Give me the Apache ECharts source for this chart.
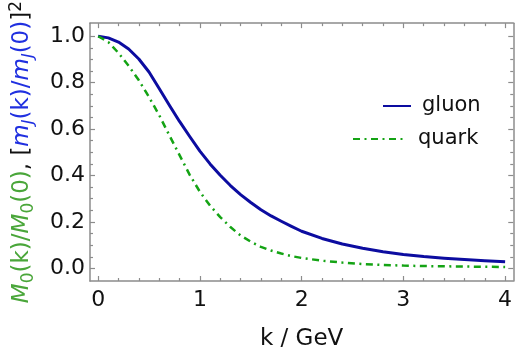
<!DOCTYPE html>
<html>
<head>
<meta charset="utf-8">
<script src="https://cdn.jsdelivr.net/npm/echarts@6/dist/echarts.min.js"></script>
<style>
html,body{margin:0;padding:0;background:#fff;}
#chart{width:515px;height:356px;}
</style>
</head>
<body>
<div id="chart"></div>
<script>
// ---- data ----
var kValues = [0,0.1,0.2,0.3,0.4,0.5,0.6,0.7,0.8,0.9,1.0,1.1,1.2,1.3,1.4,1.5,1.6,1.7,1.8,1.9,2.0,2.2,2.4,2.6,2.8,3.0,3.2,3.4,3.6,3.8,4.0];
var gluonValues = [1.000,0.993,0.975,0.945,0.902,0.846,0.775,0.703,0.633,0.568,0.505,0.450,0.401,0.357,0.318,0.284,0.253,0.226,0.203,0.181,0.160,0.129,0.105,0.087,0.072,0.060,0.051,0.044,0.038,0.033,0.029];
var quarkValues = [1.000,0.975,0.928,0.872,0.810,0.738,0.660,0.573,0.488,0.403,0.330,0.270,0.221,0.178,0.142,0.115,0.093,0.077,0.064,0.053,0.045,0.033,0.025,0.019,0.015,0.012,0.010,0.009,0.008,0.007,0.006];
var seriesNames = ['gluon','quark'];
var xMajorTicks = [0,1,2,3,4];
var xMinorTicks = [0.2,0.4,0.6,0.8,1.2,1.4,1.6,1.8,2.2,2.4,2.6,2.8,3.2,3.4,3.6,3.8];
var yMajorTicks = [0,0.2,0.4,0.6,0.8,1.0];
var yMinorTicks = [0.05,0.1,0.15,0.25,0.3,0.35,0.45,0.5,0.55,0.65,0.7,0.75,0.85,0.9,0.95];
var xLabel = 'k / GeV';

// ---- styling ----
var FONT = 'DejaVu Sans';
var FRAME = '#8c8c8c';
var BLUE = '#0c0ca0';
var GREEN = '#14a314';
var LBL_GREEN = '#4aa63a';
var LBL_BLUE = '#2030e0';
var X_MIN = -0.08, X_MAX = 4.08, Y_MIN = -0.0543, Y_MAX = 1.0564;

function pairs(xs, ys){ return xs.map(function(x,i){ return [x, ys[i]]; }); }

function xAxisDef(pos, ticks, len, labels, lineShow){
  return {
    type:'value', position:pos, min:X_MIN, max:X_MAX,
    axisLine:{show:lineShow, onZero:false, lineStyle:{color:FRAME, width:1.5}},
    axisTick:{show:true, inside:true, length:len, customValues:ticks, lineStyle:{color:FRAME, width:1.2}},
    axisLabel:{show:labels, customValues:ticks, margin:8, color:'#111', fontFamily:FONT, fontSize:22,
      formatter:function(v){ return String(Math.round(v)); }},
    splitLine:{show:false}
  };
}
function yAxisDef(pos, ticks, len, labels, lineShow){
  return {
    type:'value', position:pos, min:Y_MIN, max:Y_MAX,
    axisLine:{show:lineShow, onZero:false, lineStyle:{color:FRAME, width:1.5}},
    axisTick:{show:true, inside:true, length:len, customValues:ticks, lineStyle:{color:FRAME, width:1.2}},
    axisLabel:{show:labels, customValues:ticks, margin:5, color:'#111', fontFamily:FONT, fontSize:22,
      formatter:function(v){ return v.toFixed(1); }},
    splitLine:{show:false}
  };
}

var xAxes = [
  xAxisDef('bottom', xMajorTicks, 5, true, true),
  xAxisDef('bottom', xMinorTicks, 3, false, false),
  xAxisDef('top', xMajorTicks, 5, false, true),
  xAxisDef('top', xMinorTicks, 3, false, false)
];
xAxes[0].name = xLabel;
xAxes[0].nameLocation = 'middle';
xAxes[0].nameGap = 47;
xAxes[0].nameTextStyle = {color:'#111', fontFamily:FONT, fontSize:23};

var yAxes = [
  yAxisDef('left', yMajorTicks, 5, true, true),
  yAxisDef('left', yMinorTicks, 3, false, false),
  yAxisDef('right', yMajorTicks, 5, false, true),
  yAxisDef('right', yMinorTicks, 3, false, false)
];
function st(color, italic, size, lh, va){
  return {color:color, fontStyle:italic?'italic':'normal', fontFamily:FONT, fontSize:size, lineHeight:lh, verticalAlign:va};
}
yAxes[0].name = '{gi|M}{gs|0}{g|(k)/}{gi|M}{gs|0}{g|(0)}{k|, [}{bi|m}{bs|J}{b|(k)/}{bi|m}{bs|J}{b|(0)}{k|]}{sup|2}';
yAxes[0].nameLocation = 'middle';
yAxes[0].nameRotate = 90;
yAxes[0].nameGap = 53;
yAxes[0].nameTextStyle = {
  fontFamily:FONT, fontSize:23,
  rich:{
    g: st(LBL_GREEN,false,23,29,'middle'),
    gi: st(LBL_GREEN,true,23,29,'middle'),
    gs: st(LBL_GREEN,false,17,15,'bottom'),
    k: st('#111',false,23,29,'middle'),
    b: st(LBL_BLUE,false,23,29,'middle'),
    bi: st(LBL_BLUE,true,23,29,'middle'),
    bs: st(LBL_BLUE,true,16,15,'bottom'),
    sup: st('#111',false,17,17,'top')
  }
};

var option = {
  animation:false,
  backgroundColor:'#ffffff',
  grid:{left:84, top:19, width:430, height:266, containLabel:false},
  xAxis:xAxes,
  yAxis:yAxes,
  legend:[
    {data:[seriesNames[0]], left:377, top:88, itemWidth:28, itemHeight:14, itemGap:0,
     itemStyle:{opacity:0},
     textStyle:{fontFamily:FONT, fontSize:21, color:'#111', padding:[0,0,0,6], lineHeight:26}},
    {data:[seriesNames[1]], left:347, top:121, itemWidth:53, itemHeight:14, itemGap:0,
     itemStyle:{opacity:0},
     textStyle:{fontFamily:FONT, fontSize:21, color:'#111', padding:[0,0,0,7], lineHeight:26}}
  ],
  series:[
    {name:seriesNames[0], type:'line', xAxisIndex:0, yAxisIndex:0, data:pairs(kValues, gluonValues),
     smooth:false, symbol:'none', lineStyle:{color:BLUE, width:3, join:'round'}, itemStyle:{color:BLUE}},
    {name:seriesNames[1], type:'line', xAxisIndex:0, yAxisIndex:0, data:pairs(kValues, quarkValues),
     smooth:false, symbol:'none', lineStyle:{color:GREEN, width:2.5, type:[7,4.5,2,4.5]}, itemStyle:{color:GREEN}}
  ]
};
var chart = echarts.init(document.getElementById('chart'), null, {renderer:'canvas'});
chart.setOption(option);
</script>
</body>
</html>
